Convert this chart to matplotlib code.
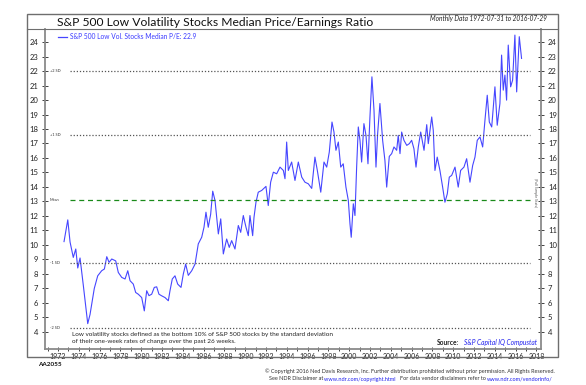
import matplotlib
matplotlib.use("Agg")
import matplotlib.pyplot as plt
from matplotlib.patches import Rectangle
from matplotlib.lines import Line2D
from matplotlib.ticker import MultipleLocator

plt.rcParams["font.family"] = ["Lato", "DejaVu Sans"]

# (year, median P/E)
years = [
    1972.58, 1972.94, 1973.16, 1973.47, 1973.71, 1973.90, 1974.12, 1974.44, 1974.86, 1975.08,
    1975.49, 1975.82, 1976.20, 1976.46, 1976.69, 1976.91, 1977.17, 1977.55, 1977.80, 1978.13,
    1978.45, 1978.71, 1978.93, 1979.24, 1979.47, 1979.72, 1980.05, 1980.30, 1980.53, 1980.75,
    1981.01, 1981.26, 1981.49, 1981.71, 1981.97, 1982.29, 1982.61, 1982.77, 1982.99, 1983.25,
    1983.51, 1983.83, 1984.05, 1984.28, 1984.53, 1984.86, 1985.18, 1985.49, 1985.82, 1986.04,
    1986.23, 1986.45, 1986.68, 1986.88, 1987.10, 1987.26, 1987.42, 1987.65, 1987.90, 1988.22,
    1988.47, 1988.70, 1989.02, 1989.34, 1989.57, 1989.82, 1990.08, 1990.30, 1990.46, 1990.72,
    1990.85, 1991.04, 1991.26, 1991.59, 1992.00, 1992.22, 1992.45, 1992.71, 1993.03, 1993.35,
    1993.67, 1993.83, 1993.99, 1994.15, 1994.47, 1994.79, 1995.11, 1995.44, 1995.75, 1996.07,
    1996.40, 1996.71, 1996.94, 1997.27, 1997.58, 1997.84, 1998.09, 1998.35, 1998.54, 1998.73,
    1998.96, 1999.19, 1999.43, 1999.69, 1999.92, 2000.08, 2000.20, 2000.40, 2000.56, 2000.72,
    2000.88, 2001.04, 2001.20, 2001.42, 2001.62, 2001.81, 2002.00, 2002.19, 2002.39, 2002.58,
    2002.74, 2002.96, 2003.22, 2003.44, 2003.61, 2003.86, 2004.09, 2004.31, 2004.57, 2004.72,
    2004.89, 2005.05, 2005.27, 2005.54, 2005.79, 2006.01, 2006.23, 2006.43, 2006.65, 2006.88,
    2007.20, 2007.46, 2007.61, 2007.94, 2008.09, 2008.25, 2008.47, 2008.73, 2008.99, 2009.21,
    2009.44, 2009.63, 2009.86, 2010.18, 2010.49, 2010.72, 2011.04, 2011.30, 2011.62, 2011.88,
    2012.10, 2012.32, 2012.58, 2012.84, 2013.06, 2013.28, 2013.48, 2013.71, 2014.02, 2014.24,
    2014.50, 2014.66, 2014.82, 2014.98, 2015.14, 2015.30, 2015.53, 2015.72, 2015.94, 2016.11,
    2016.36, 2016.58,
]
pe = [
    10.23, 11.73, 10.20, 9.14, 9.72, 8.41, 9.10, 7.18, 4.57, 5.20,
    7.00, 7.87, 8.22, 8.34, 9.19, 8.80, 9.03, 8.90, 8.10, 7.76,
    7.65, 8.22, 7.53, 7.30, 6.72, 6.60, 6.37, 5.45, 6.84, 6.50,
    6.60, 7.07, 7.11, 6.60, 6.49, 6.37, 6.15, 6.84, 7.65, 7.87,
    7.30, 7.07, 7.99, 8.68, 7.90, 8.22, 8.68, 10.07, 10.53, 11.22,
    12.26, 11.22, 12.11, 13.71, 13.07, 11.91, 10.76, 11.80, 9.38, 10.41,
    9.83, 10.30, 9.72, 11.34, 10.87, 12.03, 11.22, 10.64, 12.03, 10.64,
    11.91, 12.95, 13.64, 13.76, 14.04, 12.72, 14.33, 15.02, 14.91, 15.37,
    15.14, 14.57, 17.10, 15.14, 15.72, 14.45, 15.72, 14.68, 14.33, 14.22,
    13.90, 16.06, 15.14, 13.64, 15.72, 15.37, 16.41, 18.48, 17.79, 16.53,
    17.10, 15.37, 15.60, 13.99, 13.07, 11.45, 10.53, 12.84, 12.03, 15.37,
    18.14, 17.22, 15.72, 18.37, 17.56, 15.60, 18.83, 21.60, 19.29, 15.37,
    17.68, 19.76, 17.22, 15.83, 13.99, 16.11, 16.30, 16.76, 16.53, 17.56,
    16.30, 17.79, 17.22, 16.87, 16.99, 17.22, 16.64, 15.37, 16.76, 17.79,
    16.53, 18.30, 16.99, 18.83, 17.91, 15.14, 16.06, 15.14, 13.99, 12.95,
    13.53, 14.68, 14.80, 15.37, 13.99, 15.14, 15.37, 15.95, 14.33, 15.49,
    16.06, 17.22, 17.45, 16.76, 18.60, 20.33, 18.48, 18.14, 20.91, 18.26,
    19.76, 23.10, 20.68, 21.72, 19.99, 23.79, 20.91, 21.37, 24.48, 20.56,
    24.37, 22.87,
]

band_names = ["+2 SD", "+1 SD", "Mean", "-1 SD", "-2 SD"]
band_values = [21.99, 17.56, 13.13, 8.73, 4.30]

W, H = 586, 385
fig = plt.figure(figsize=(W / 100, H / 100), dpi=100)


def fx(x):
    return x / W


def fy(y):
    return 1 - y / H


# outer frame + title divider
fig.patches.append(Rectangle((fx(27), fy(357)), fx(558) - fx(27), fy(14) - fy(357),
                             transform=fig.transFigure, fill=False, edgecolor="#6e6e6e", lw=1.0))
fig.lines.append(Line2D([fx(27), fx(558)], [fy(29), fy(29)], transform=fig.transFigure,
                        color="#6e6e6e", lw=0.8))

ax = fig.add_axes([fx(45), fy(349), fx(541) - fx(45), fy(29) - fy(349)])
ax.plot(years, pe, color="#4646ff", lw=0.8)

for name, v in zip(band_names, band_values):
    if name == "Mean":
        ax.plot([1973.2, 2017.4], [v, v], color="#1a8a1a", lw=0.9, ls=(0, (4, 3)))
    else:
        ax.plot([1973.2, 2017.4], [v, v], color="#555555", lw=0.9, ls=(0, (1, 1.5)))
    ax.text(1971.2, v, name, fontsize=2.8, va="center", ha="left", color="#333333")

ax.set_xlim(1970.75, 2018.45)
ax.set_ylim(2.82, 24.9)
ax.xaxis.set_major_locator(MultipleLocator(2))
ax.xaxis.set_minor_locator(MultipleLocator(1))
ax.set_yticks(range(4, 25))
ax.tick_params(axis="y", which="both", left=True, right=True, labelleft=True, labelright=True,
               direction="inout", length=4, width=0.6, labelsize=5.5, pad=3, colors="#222222")
ax.tick_params(axis="x", which="both", direction="inout", length=3, width=0.6,
               labelsize=5.0, pad=1.5, colors="#222222")
for s in ["left", "right", "bottom"]:
    ax.spines[s].set_color("#8a8a8a")
    ax.spines[s].set_linewidth(1.3)
ax.spines["top"].set_visible(False)

# legend
ax.plot([1972.0, 1972.9], [24.35, 24.35], color="#4646ff", lw=0.9)
ax.text(1973.2, 24.35, "S&P 500 Low Vol. Stocks Median P/E: 22.9", fontsize=4.8,
        color="#3a3aff", va="center", ha="left")

ax.text(1973.3, 3.6, "Low volatility stocks defined as the bottom 10% of S&P 500 stocks by the standard deviation\n"
        "of their one-week rates of change over the past 26 weeks.", fontsize=4.6,
        color="#222222", va="center", ha="left", linespacing=1.5)
ax.text(2010.6, 3.25, "Source:", fontsize=4.8, fontweight="bold", color="#222222", va="center", ha="right")
ax.text(2011.0, 3.25, "S&P Capital IQ Compustat", fontsize=4.8, style="italic", color="#2020ee",
        va="center", ha="left")
ax.text(2017.9, 13.6, "(Full Sample Stats)", fontsize=2.6, rotation=270, color="#555555",
        va="center", ha="center")

fig.text(fx(57), fy(22), "S&P 500 Low Volatility Stocks Median Price/Earnings Ratio",
         fontsize=8.7, color="#111111", va="center", ha="left")
fig.text(fx(547), fy(19), "Monthly Data 1972-07-31 to 2016-07-29", fontsize=4.7,
         style="italic", color="#222222", va="center", ha="right")
fig.text(fx(38), fy(364), "AA2055", fontsize=4.6, fontweight="bold", color="#111111",
         va="center", ha="left")
fig.text(fx(555), fy(371), "© Copyright 2016 Ned Davis Research, Inc. Further distribution prohibited "
         "without prior permission. All Rights Reserved.", fontsize=4.0, color="#333333",
         va="center", ha="right")

# second footer line, chained right to left
t4 = fig.text(fx(553), fy(379), "www.ndr.com/vendorinfo/", fontsize=4.0, color="#2020ee",
              va="center", ha="right")
t3 = fig.text(0, 0, "", fontsize=4.0)
t3 = plt.annotate("For data vendor disclaimers refer to ", xy=(0, 0), xycoords=t4,
                  fontsize=4.0, color="#333333", va="bottom", ha="right")
t2 = plt.annotate("www.ndr.com/copyright.html   ", xy=(0, 0), xycoords=t3,
                  fontsize=4.0, color="#2020ee", va="bottom", ha="right")
plt.annotate("See NDR Disclaimer at ", xy=(0, 0), xycoords=t2,
             fontsize=4.0, color="#333333", va="bottom", ha="right")

fig.savefig("out.png", dpi=100)
